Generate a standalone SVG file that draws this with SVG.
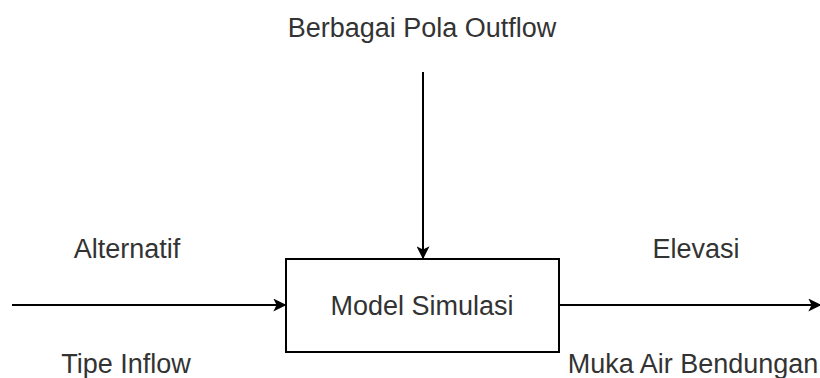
<svg xmlns="http://www.w3.org/2000/svg" width="820" height="378" viewBox="0 0 820 378">
  <style>
    .lbl { font-family: "Liberation Sans", Arial, sans-serif; font-size: 27px; fill: #333333; text-anchor: middle; }
    .edge { stroke: #000000; stroke-width: 2; fill: none; }
  </style>
  <defs>
    <marker id="arrow" viewBox="0 0 10 10" refX="9" refY="5" markerWidth="13" markerHeight="13" markerUnits="userSpaceOnUse" orient="auto">
      <path d="M0,0 L10,5 L0,10 L2.5,5 Z" fill="#000000"/>
    </marker>
  </defs>
  <rect width="820" height="378" fill="#ffffff"/>

  <g id="connectors">
    <line class="edge" x1="12" y1="305" x2="285" y2="305" marker-end="url(#arrow)"/>
    <line class="edge" x1="423" y1="72" x2="423" y2="258" marker-end="url(#arrow)"/>
    <line class="edge" x1="559" y1="305" x2="820" y2="305" marker-end="url(#arrow)"/>
  </g>

  <g id="model-simulasi">
    <rect x="286" y="259" width="273" height="93" fill="#ffffff" stroke="#000000" stroke-width="2"/>
    <text class="lbl" x="422" y="315">Model Simulasi</text>
  </g>

  <g id="outflow-label">
    <text class="lbl" x="422" y="37">Berbagai Pola Outflow</text>
  </g>
  <g id="inflow-labels">
    <text class="lbl" x="127" y="258">Alternatif</text>
    <text class="lbl" x="126" y="373">Tipe Inflow</text>
  </g>
  <g id="elevation-labels">
    <text class="lbl" x="696" y="258">Elevasi</text>
    <text class="lbl" x="693" y="373">Muka Air Bendungan</text>
  </g>
</svg>
